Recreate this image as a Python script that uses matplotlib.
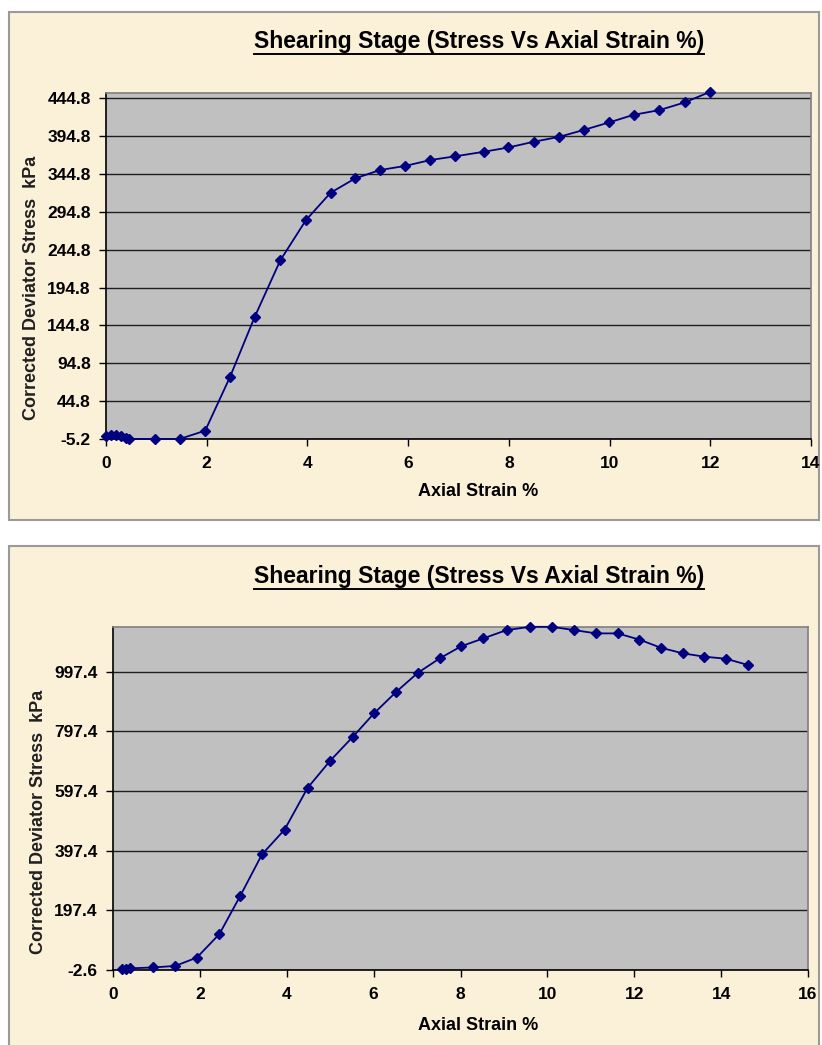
import matplotlib
matplotlib.use("Agg")
import matplotlib.pyplot as plt
from matplotlib.patches import Rectangle
from matplotlib.lines import Line2D

# first test (top chart)
strain_1 = [0.0, 0.1, 0.2, 0.3, 0.4, 0.46, 0.98, 1.46, 1.97, 2.46, 2.95, 3.46,
            3.97, 4.46, 4.95, 5.44, 5.94, 6.44, 6.94, 7.5, 7.99, 8.49, 9.0,
            9.5, 9.99, 10.48, 10.99, 11.49, 12.0]
stress_1 = [-1.5, -0.5, 0.5, -1.0, -4.0, -5.2, -5.2, -5.2, 5.8, 76.4, 155.7,
            230.7, 284.0, 320.2, 339.2, 350.2, 355.6, 363.4, 368.4, 374.3,
            380.0, 387.5, 394.1, 403.4, 413.1, 423.2, 429.4, 439.5, 453.6]
yticks_1 = [-5.2, 44.8, 94.8, 144.8, 194.8, 244.8, 294.8, 344.8, 394.8, 444.8]
xticks_1 = [0, 2, 4, 6, 8, 10, 12, 14]

# second test (bottom chart)
strain_2 = [0.2, 0.3, 0.4, 0.93, 1.43, 1.93, 2.45, 2.93, 3.43, 3.95, 4.48,
            5.0, 5.52, 6.01, 6.52, 7.02, 7.53, 8.02, 8.52, 9.06, 9.6, 10.1,
            10.62, 11.12, 11.62, 12.12, 12.61, 13.12, 13.61, 14.11, 14.62]
stress_2 = [0, 1, 3, 6, 11, 39, 118, 246, 385, 468, 608, 699, 779, 858, 930,
            994, 1043, 1083, 1109, 1137, 1148, 1148, 1137, 1126, 1126, 1105,
            1078, 1059, 1048, 1041, 1020]
yticks_2 = [-2.6, 197.4, 397.4, 597.4, 797.4, 997.4]
xticks_2 = [0, 2, 4, 6, 8, 10, 12, 14, 16]

title = "Shearing Stage (Stress Vs Axial Strain %)"
ylabel = "Corrected Deviator Stress  kPa"
xlabel = "Axial Strain %"

W, H = 822, 1045
plt.rcParams['font.family'] = ['Liberation Sans', 'DejaVu Sans']
fig = plt.figure(figsize=(W / 100, H / 100), dpi=100)
fig.patch.set_facecolor("white")
cream = "#FBF0D8"


def fx(px):
    return px / W


def fy(py):
    return 1 - py / H


def panel(top, bottom):
    fig.add_artist(Rectangle((fx(9), fy(bottom)), fx(819 - 9), (bottom - top) / H,
                             transform=fig.transFigure, facecolor=cream,
                             edgecolor="#9a9a9a", lw=1.5, zorder=0))


def chart(box, x, y, xlim, ylim, xticks, yticks, title_y, xlabel_y, ylabel_x, ylabel_y):
    left, top, right, bottom = box
    ax = fig.add_axes([fx(left), fy(bottom), (right - left) / W, (bottom - top) / H])
    ax.set_facecolor("#C0C0C0")
    ax.set_axisbelow(True)
    ax.yaxis.grid(True, color="#1e1e1e", lw=1.0)
    ax.plot(x, y, color="#000080", lw=1.3, marker="D", ms=5, clip_on=False, zorder=3)
    ax.set_xlim(*xlim)
    ax.set_ylim(*ylim)
    ax.set_xticks(xticks)
    ax.set_xticklabels([str(v) for v in xticks])
    ax.set_yticks(yticks)
    ax.set_yticklabels([f"{v:.1f}" for v in yticks])
    ax.tick_params(direction="out", length=5, width=1, labelsize=12.5)
    ax.tick_params(axis="x", pad=7)
    ax.tick_params(axis="y", pad=6)
    plt.setp(ax.get_xticklabels() + ax.get_yticklabels(), fontweight="bold")
    for s in ["left", "bottom"]:
        ax.spines[s].set_color("black")
        ax.spines[s].set_linewidth(1.2)
    for s in ["top", "right"]:
        ax.spines[s].set_color("#808080")
        ax.spines[s].set_linewidth(1.2)

    t = fig.text(fx(479), fy(title_y), title, ha="center", va="center",
                 fontsize=16.5, fontweight="bold")
    fig.canvas.draw()
    bb = t.get_window_extent()
    fig.add_artist(Line2D([bb.x0 / W, bb.x1 / W], [(bb.y0 - 1) / H] * 2,
                          transform=fig.transFigure, color="black", lw=1.4))
    fig.text(fx(478), fy(xlabel_y), xlabel, ha="center", va="center",
             fontsize=13, fontweight="bold")
    fig.text(fx(ylabel_x), fy(ylabel_y), ylabel, ha="center", va="center",
             rotation=90, fontsize=13, fontweight="bold", color="#202020")
    return ax


panel(12, 520)
panel(546, 1060)

chart((106, 93, 811, 439), strain_1, stress_1, (0, 14), (-5.2, 452.0),
      xticks_1, yticks_1, 42, 492, 32, 288)
chart((113, 627, 808, 970), strain_2, stress_2, (0, 16), (-2.6, 1147.4),
      xticks_2, yticks_2, 576, 1025, 39, 822)

fig.savefig("out.png", dpi=100, facecolor="white")
